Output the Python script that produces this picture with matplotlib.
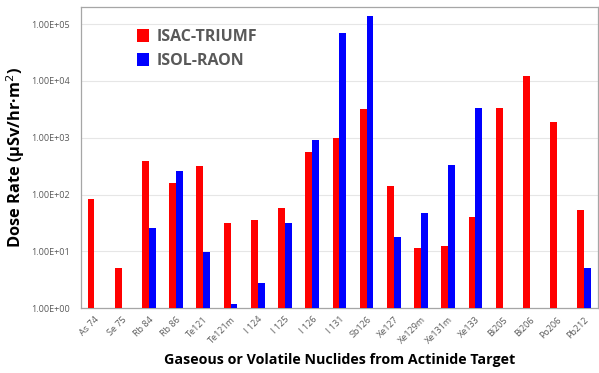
import numpy as np
import matplotlib
matplotlib.use("Agg")
import matplotlib.pyplot as plt
from matplotlib.ticker import FixedLocator, NullLocator

plt.rcParams['font.family'] = ['Open Sans', 'DejaVu Sans']

nuclides = ["As 74", "Se 75", "Rb 84", "Rb 86", "Te121", "Te121m", "I 124", "I 125",
            "I 126", "I 131", "Sb126", "Xe127", "Xe129m", "Xe131m", "Xe133", "Bi205",
            "Bi206", "Po206", "Pb212"]
isac_triumf = [83, 5.0, 390, 158, 316, 31, 35.5, 58, 552, 980, 3200, 141, 11.3, 12.3,
               40.5, 3300, 12300, 1900, 53]
isol_raon = [1.02, 1.02, 25.6, 257, 9.7, 1.17, 2.75, 31, 900, 69000, 138000, 18, 47,
             330, 3400, 1.02, 1.02, 1.02, 5.1]
ytick_vals = [1e0, 1e1, 1e2, 1e3, 1e4, 1e5]
ytick_labels = ["1.00E+00", "1.00E+01", "1.00E+02", "1.00E+03", "1.00E+04", "1.00E+05"]

fig = plt.figure(figsize=(5.99, 3.73), dpi=100)
ax = fig.add_axes([0.135, 0.174, 0.863, 0.807])

x = np.arange(len(nuclides))
w = 0.25
ax.bar(x - w / 2, np.array(isac_triumf) - 1, w, bottom=1, color="#ff0000", label="ISAC-TRIUMF", zorder=3)
ax.bar(x + w / 2, np.array(isol_raon) - 1, w, bottom=1, color="#0000ff", label="ISOL-RAON", zorder=3)

ax.set_yscale("log")
ax.set_ylim(1, 2.0e5)
ax.set_xlim(-0.5, len(nuclides) - 0.5)
ax.yaxis.set_major_locator(FixedLocator(ytick_vals))
ax.yaxis.set_minor_locator(NullLocator())
ax.set_yticklabels(ytick_labels, fontsize=6.5, color="#595959")
ax.set_xticks(x)
ax.set_xticklabels(nuclides, rotation=45, ha="right", rotation_mode="anchor", fontsize=6.5, color="#595959")
ax.tick_params(length=0, pad=8)
ax.tick_params(axis="x", pad=5)
ax.grid(axis="y", color="#e6e6e6", linewidth=0.8, zorder=0)
for s in ax.spines.values():
    s.set_color("#a6a6a6")
    s.set_linewidth(0.9)

ax.set_ylabel("Dose Rate (μSv/hr·m$^2$)", fontsize=11.8, fontweight="bold")
ax.yaxis.set_label_coords(-0.104, 0.5)
ax.set_xlabel("Gaseous or Volatile Nuclides from Actinide Target", fontsize=10.3, fontweight="bold")
ax.xaxis.set_label_coords(0.5, -0.148)

leg = ax.legend(loc="upper left", bbox_to_anchor=(0.08, 0.975), frameon=False,
                handlelength=0.8, handleheight=0.8, handletextpad=0.45, labelspacing=0.5,
                prop={"weight": "bold", "size": 11.5})
for t in leg.get_texts():
    t.set_color("#595959")

fig.savefig("out.png", dpi=100)
